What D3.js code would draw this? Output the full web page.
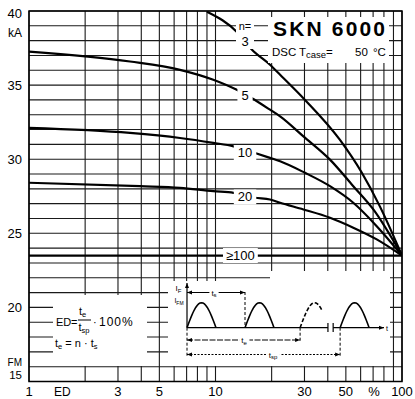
<!DOCTYPE html>
<html lang="en">
<head>
<meta charset="UTF-8">
<title>SKN 6000</title>
<script src="https://cdn.jsdelivr.net/npm/d3@7"></script>
<style>
    body { margin: 0; background: #fff; }
    text { font-family: "Liberation Sans", Arial, sans-serif; fill: #000; }
</style>
</head>
<body>
<div id="chart"></div>
<script>
    const width = 415, height = 399;
    const plotLeft = 29, plotRight = 402, plotTop = 11, plotBottom = 381.5;

    // I_FM (kA) over duty cycle ED (%), one curve per n
    const n3ED = [9.0, 13.2, 15.6, 19.6, 22.2, 30.2, 46.5, 60.8, 76.2, 100];
    const n3KA = [39.95, 38.52, 37.42, 36.37, 35.7, 34.0, 31.3, 29.1, 26.8, 23.5];
    const n5ED = [1, 3.48, 6.45, 9.73, 13.0, 15.6, 19.6, 22.2, 29.6, 41.1, 54.8, 70.2, 100];
    const n5KA = [37.26, 36.59, 36.03, 35.36, 34.68, 34.13, 33.34, 32.89, 31.54, 29.97, 28.18, 26.61, 23.5];
    const n10ED = [1, 3.48, 6.45, 9.73, 12.5, 16.3, 19.6, 22.2, 30.2, 41.1, 54.8, 73.2, 100];
    const n10KA = [32.11, 31.77, 31.43, 31.10, 30.87, 30.42, 30.09, 29.86, 29.08, 28.18, 27.06, 25.48, 23.5];
    const n20ED = [1, 3.94, 6.45, 9.73, 12.5, 16.3, 19.6, 22.2, 29.6, 41.1, 54.8, 73.2, 100];
    const n20KA = [28.41, 28.18, 28.07, 27.84, 27.73, 27.40, 27.28, 27.06, 26.61, 26.05, 25.38, 24.59, 23.5];
    const n100ED = [1, 100];
    const n100KA = [23.5, 23.5];

    const curveNames = ["3", "5", "10", "20", "≥100"];
    const yTicks = [40, 35, 30, 25, 20, 15];
    const xTicks = [1, 3, 5, 10, 30, 50, 100];
    const xGrid = [1, 2, 3, 4, 5, 6, 7, 8, 9, 10, 20, 30, 40, 50, 60, 70, 80, 90, 100];
    const yGrid = d3.range(15, 41);

    const svg = d3.select("#chart").append("svg")
        .attr("width", width)
        .attr("height", height);

    const x = d3.scaleLog().domain([1, 100]).range([plotLeft, plotRight]);
    const y = d3.scaleLinear().domain([15, 40]).range([plotBottom, plotTop]);

    const defs = svg.append("defs");
    defs.append("clipPath").attr("id", "plot")
        .append("rect")
        .attr("x", plotLeft).attr("y", plotTop)
        .attr("width", plotRight - plotLeft).attr("height", plotBottom - plotTop);

    // 网格
    const grid = svg.append("g").attr("stroke", "#1a1a1a").attr("stroke-width", 1.1);
    grid.selectAll(".vx").data(xGrid).join("line")
        .attr("x1", d => x(d)).attr("x2", d => x(d))
        .attr("y1", plotTop).attr("y2", plotBottom);
    grid.selectAll(".hy").data(yGrid).join("line")
        .attr("x1", plotLeft).attr("x2", plotRight)
        .attr("y1", d => y(d)).attr("y2", d => y(d));

    // 曲线
    const curves = [
        {ed: n3ED, ka: n3KA},
        {ed: n5ED, ka: n5KA},
        {ed: n10ED, ka: n10KA},
        {ed: n20ED, ka: n20KA},
        {ed: n100ED, ka: n100KA}
    ];
    const line = d3.line()
        .x(d => x(d[0]))
        .y(d => y(d[1]))
        .curve(d3.curveMonotoneX);
    svg.append("g").attr("clip-path", "url(#plot)")
        .selectAll("path").data(curves).join("path")
        .attr("d", c => line(c.ed.map((e, i) => [e, c.ka[i]])))
        .attr("fill", "none")
        .attr("stroke", "#000")
        .attr("stroke-width", 2.2);

    // white boxes that cut the grid
    const masks = [
        [268, 17, 389, 63],
        [53, 295, 147, 366],
        [168, 281, 390, 366],
        [270, 271, 390, 281]
    ];
    svg.append("g").selectAll("rect").data(masks).join("rect")
        .attr("x", d => d[0]).attr("y", d => d[1])
        .attr("width", d => d[2] - d[0]).attr("height", d => d[3] - d[1])
        .attr("fill", "#fff");

    // curve labels with white gap
    function gapLabel(tx, ty, str, size, padX, padY) {
        const g = svg.append("g");
        const t = g.append("text")
            .attr("x", tx).attr("y", ty)
            .attr("text-anchor", "middle")
            .attr("dominant-baseline", "central")
            .style("font-size", size + "px")
            .text(str);
        const b = t.node().getBBox();
        g.insert("rect", "text")
            .attr("x", b.x - padX).attr("y", b.y - padY)
            .attr("width", b.width + 2 * padX).attr("height", b.height + 2 * padY)
            .attr("fill", "#fff");
    }
    // n= and 3 share one gap
    svg.append("rect").attr("x", 236).attr("y", 19).attr("width", 18).attr("height", 30).attr("fill", "#fff");
    svg.append("text").attr("x", x(14.4)).attr("y", y(39)).attr("text-anchor", "middle")
        .attr("dominant-baseline", "central").style("font-size", "11px").text("n=");
    svg.append("text").attr("x", x(14.4)).attr("y", y(37.95)).attr("text-anchor", "middle")
        .attr("dominant-baseline", "central").style("font-size", "13px").text(curveNames[0]);
    gapLabel(x(14.4), y(34.3), curveNames[1], 13, 4, 0);
    gapLabel(x(14.4), y(30.45), curveNames[2], 13, 4, 0);
    gapLabel(x(14.4), y(27.45), curveNames[3], 13, 4, 0);
    gapLabel(x(13.6), y(23.5), curveNames[4], 13, 3, 0);

    // 坐标轴文字
    svg.append("g").selectAll("text").data(yTicks).join("text")
        .attr("x", 22)
        .attr("y", d => d === 40 ? y(d) + 2.5 : (d === 15 ? y(d) - 2.5 : y(d)))
        .attr("text-anchor", "end")
        .attr("dominant-baseline", d => d === 15 ? "auto" : "central")
        .style("font-size", d => d === 15 ? "11.5px" : "13px")
        .text(d => d);
    svg.append("text").attr("x", 22).attr("y", 33).attr("text-anchor", "end")
        .attr("dominant-baseline", "central").style("font-size", "12px").text("kA");
    svg.append("text").attr("x", 22).attr("y", 365.5).attr("text-anchor", "end")
        .style("font-size", "10px").text("FM");

    svg.append("g").selectAll("text").data(xTicks).join("text")
        .attr("x", d => x(d))
        .attr("y", 396)
        .attr("text-anchor", "middle")
        .style("font-size", "13px")
        .text(d => d);
    svg.append("text").attr("x", x(1.51)).attr("y", 396).attr("text-anchor", "middle")
        .style("font-size", "12px").text("ED");
    svg.append("text").attr("x", x(70.8)).attr("y", 396).attr("text-anchor", "middle")
        .style("font-size", "13px").text("%");

    // title box
    svg.append("text").attr("x", 273).attr("y", 36)
        .style("font-size", "21px").style("font-weight", "bold")
        .attr("textLength", 112)
        .text("SKN  6000");
    const sub = svg.append("g").style("font-size", "11.5px");
    sub.append("text").attr("x", 272).attr("y", 56).text("DSC");
    const tc = sub.append("text").attr("x", 299).attr("y", 56);
    tc.append("tspan").text("T");
    tc.append("tspan").attr("dy", 2).style("font-size", "9.5px").text("case");
    tc.append("tspan").attr("dy", -2).text("=");
    sub.append("text").attr("x", 355).attr("y", 56).text("50");
    sub.append("text").attr("x", 373).attr("y", 56).text("°C");

    // formula
    const f = svg.append("g").style("font-size", "11px");
    f.append("text").attr("x", 56).attr("y", 326).text("ED");
    f.append("text").attr("x", 71).attr("y", 326).text("=");
    const num = f.append("text").attr("x", 79).attr("y", 315);
    num.append("tspan").text("t");
    num.append("tspan").attr("dy", 2).style("font-size", "7.5px").text("e");
    const den = f.append("text").attr("x", 78.5).attr("y", 330.5);
    den.append("tspan").text("t");
    den.append("tspan").attr("dy", 2).style("font-size", "7.5px").text("sp");
    f.append("line").attr("x1", 78).attr("x2", 91).attr("y1", 320).attr("y2", 320)
        .attr("stroke", "#000").attr("stroke-width", 1);
    f.append("text").attr("x", 93).attr("y", 326).text("·");
    f.append("text").attr("x", 99).attr("y", 326).style("font-size", "12px")
        .style("letter-spacing", "1px").text("100%");
    const te = f.append("text").attr("x", 55).attr("y", 347);
    te.append("tspan").text("t");
    te.append("tspan").attr("dy", 2).style("font-size", "7.5px").text("e");
    te.append("tspan").attr("dy", -2).text(" = n · t");
    te.append("tspan").attr("dy", 2).style("font-size", "7.5px").text("s");

    // inset waveform sketch
    const ix = d3.scaleLinear().domain([0, 7]).range([187, 390]);
    const iy = d3.scaleLinear().domain([0, 1]).range([327.7, 302.7]);
    const inset = svg.append("g").attr("stroke", "#000").attr("fill", "none");
    defs.append("marker").attr("id", "ah").attr("viewBox", "0 0 10 10")
        .attr("refX", 10).attr("refY", 5).attr("markerWidth", 5).attr("markerHeight", 5)
        .attr("markerUnits", "userSpaceOnUse").attr("orient", "auto-start-reverse")
        .append("path").attr("d", "M0,1L10,5L0,9Z").attr("fill", "#000").attr("stroke", "none");

    const pulseStarts = [0, 2, 3.9, 5.28];
    const pulseLen = [1, 1, 0.78, 1];
    const pulseDash = [null, null, "4,2", null];
    const pline = d3.line().x(d => ix(d[0])).y(d => iy(d[1]));
    pulseStarts.forEach((p, i) => {
        const pts = d3.range(0, pulseLen[i] + 0.001, 0.05).map(t => [p + t, Math.sin(Math.PI * t)]);
        inset.append("path").attr("d", pline(pts)).attr("stroke-width", 1.6)
            .attr("stroke-dasharray", pulseDash[i]);
    });
    // axes
    inset.append("line").attr("x1", ix(0)).attr("x2", ix(0)).attr("y1", iy(0)).attr("y2", 283)
        .attr("stroke-width", 1.2).attr("marker-end", "url(#ah)");
    inset.append("line").attr("x1", ix(0)).attr("x2", ix(4.86)).attr("y1", iy(0)).attr("y2", iy(0))
        .attr("stroke-width", 1.3);
    inset.append("line").attr("x1", ix(5.04)).attr("x2", 384).attr("y1", iy(0)).attr("y2", iy(0))
        .attr("stroke-width", 1.3).attr("marker-end", "url(#ah)");
    [4.86, 5.04].forEach(b => inset.append("line").attr("x1", ix(b)).attr("x2", ix(b))
        .attr("y1", 323).attr("y2", 332).attr("stroke-width", 1.2));
    // dashed helpers
    const helpers = [[0, 327.7, 357], [2, 292, 327.7], [3.9, 327.7, 342], [5.28, 327.7, 357]];
    helpers.forEach(h => inset.append("line").attr("x1", ix(h[0])).attr("x2", ix(h[0]))
        .attr("y1", h[1]).attr("y2", h[2]).attr("stroke-width", 1).attr("stroke-dasharray", "3,2"));
    // dimension arrows
    const dims = [[2, 292.5, null], [3.9, 340, "6,1.5"], [5.28, 354.5, "2,1.5"]];
    dims.forEach(dm => inset.append("line").attr("x1", ix(0)).attr("x2", ix(dm[0]))
        .attr("y1", dm[1]).attr("y2", dm[1]).attr("stroke-width", 1)
        .attr("stroke-dasharray", dm[2])
        .attr("marker-start", "url(#ah)").attr("marker-end", "url(#ah)"));

    function insetLabel(tx, ty, main, subText, size) {
        const t = svg.append("text").attr("x", tx).attr("y", ty)
            .attr("text-anchor", "middle").style("font-size", size + "px");
        t.append("tspan").text(main);
        t.append("tspan").attr("dy", 1.5).style("font-size", (size - 2) + "px").text(subText);
        const b = t.node().getBBox();
        svg.insert("rect", () => t.node())
            .attr("x", b.x - 2).attr("y", b.y).attr("width", b.width + 4).attr("height", b.height)
            .attr("fill", "#fff");
    }
    insetLabel(214, 295.5, "t", "s", 8);
    insetLabel(244, 343, "t", "e", 8);
    insetLabel(273, 357.5, "t", "sp", 8);
    insetLabel(178.5, 291, "I", "F", 8);
    insetLabel(179, 303, "I", "FM", 7);
    svg.append("text").attr("x", 386).attr("y", 330.5).style("font-size", "7px").text("t");

    // 边框
    svg.append("rect")
        .attr("x", plotLeft).attr("y", plotTop)
        .attr("width", plotRight - plotLeft).attr("height", plotBottom - plotTop)
        .attr("fill", "none").attr("stroke", "#000").attr("stroke-width", 1.5);
</script>
</body>
</html>
